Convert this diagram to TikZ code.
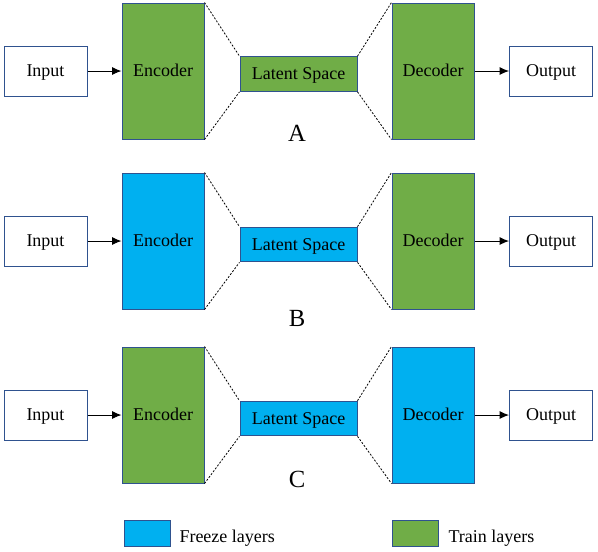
\documentclass[tikz,border=0pt]{standalone}
\usepackage{fontspec}
\setmainfont{Liberation Serif}
\usetikzlibrary{arrows.meta}
\definecolor{trainGreen}{HTML}{70AD47}
\definecolor{freezeBlue}{HTML}{00B0F0}
\definecolor{edgeBlue}{HTML}{2F528F}

\begin{document}
\begin{tikzpicture}[x=0.75pt, y=-0.75pt,
  box/.style={draw=edgeBlue, line width=0.75pt, inner sep=0pt,
    text height=8.8pt, text depth=0pt,
    font=\fontsize{13.5}{16}\selectfont},
  io/.style={box, fill=white, minimum width=62.25pt, minimum height=37.5pt},
  coder/.style={box, minimum width=61.5pt, minimum height=102pt},
  latent/.style={box, minimum width=87.75pt, minimum height=26pt},
  train/.style={fill=trainGreen},
  freeze/.style={fill=freezeBlue},
  flow/.style={-{Latex[length=7pt,width=6pt]}, line width=0.75pt},
  link/.style={dash pattern=on 1.5pt off 1.2pt, line width=0.6pt},
  tag/.style={inner sep=0pt, text height=12.5pt, text depth=0pt,
    font=\fontsize{18.5}{20}\selectfont}]
\useasboundingbox (0,0) rectangle (598,551);
%%% row A %%%

      \node[io] (inA) at (45.5,71) {Input};
      \node[coder, train] (encA) at (163,71) {Encoder};
      \node[latent, train] (latA) at (298.5,74) {Latent Space};
      \node[coder, train] (decA) at (433,71) {Decoder};
      \node[io] (outA) at (551,71) {Output};
      \node[tag] (tagA) at (297,133) {A};
      %%
      \draw[flow] (inA) -- (encA);
      \draw[flow] (decA) -- (outA);
      \draw[link] (encA.north east) -- (latA.north west);
      \draw[link] (encA.south east) -- (latA.south west);
      \draw[link] (latA.north east) -- (decA.north west);
      \draw[link] (latA.south east) -- (decA.south west);

%%% row B %%%

      \node[io] (inB) at (45.5,241) {Input};
      \node[coder, freeze] (encB) at (163,241) {Encoder};
      \node[latent, freeze] (latB) at (298.5,244.5) {Latent Space};
      \node[coder, train] (decB) at (433,241) {Decoder};
      \node[io] (outB) at (551,241) {Output};
      \node[tag] (tagB) at (297,318.5) {B};
      %%
      \draw[flow] (inB) -- (encB);
      \draw[flow] (decB) -- (outB);
      \draw[link] (encB.north east) -- (latB.north west);
      \draw[link] (encB.south east) -- (latB.south west);
      \draw[link] (latB.north east) -- (decB.north west);
      \draw[link] (latB.south east) -- (decB.south west);

%%% row C %%%

      \node[io] (inC) at (45.5,415) {Input};
      \node[coder, train] (encC) at (163,415) {Encoder};
      \node[latent, freeze] (latC) at (298.5,418.5) {Latent Space};
      \node[coder, freeze] (decC) at (433,415) {Decoder};
      \node[io] (outC) at (551,415) {Output};
      \node[tag] (tagC) at (297,479) {C};
      %%
      \draw[flow] (inC) -- (encC);
      \draw[flow] (decC) -- (outC);
      \draw[link] (encC.north east) -- (latC.north west);
      \draw[link] (encC.south east) -- (latC.south west);
      \draw[link] (latC.north east) -- (decC.north west);
      \draw[link] (latC.south east) -- (decC.south west);

%%% legend %%%

      \node[box, freeze, minimum width=34.5pt, minimum height=19.5pt] (keyFreeze) at (147,533.5) {};
      \node[box, draw=none, anchor=west] (txtFreeze) at (179,537) {Freeze layers};
      \node[box, train, minimum width=34.5pt, minimum height=19.5pt] (keyTrain) at (415.5,533.5) {};
      \node[box, draw=none, anchor=west] (txtTrain) at (448,537) {Train layers};

\end{tikzpicture}
\end{document}
